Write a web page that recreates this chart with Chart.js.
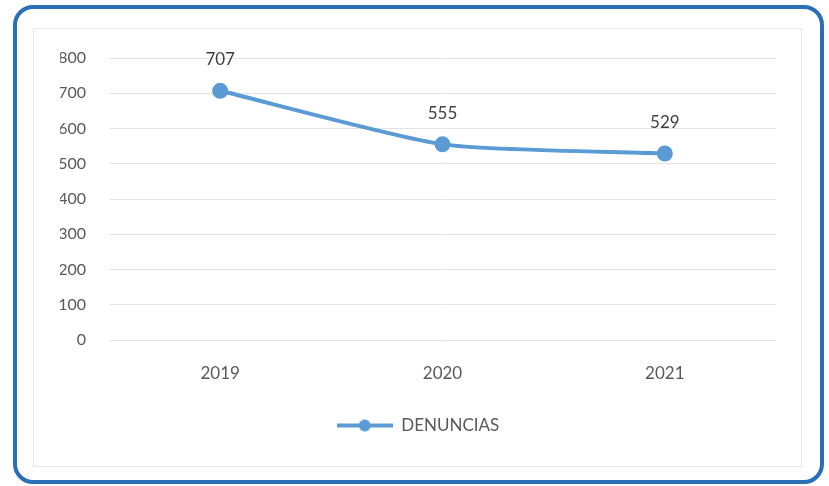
<!DOCTYPE html>
<html>
<head>
<meta charset="utf-8">
<script src="https://cdn.jsdelivr.net/npm/chart.js@4"></script>
<style>
  html,body{margin:0;padding:0;background:#fff;}
  #wrap{position:relative;width:829px;height:486px;overflow:hidden;}
  #outer{position:absolute;left:13px;top:5px;width:803px;height:471px;border:4px solid #2a70b8;border-radius:20px;box-sizing:content-box;}
  #inner{position:absolute;left:33px;top:28px;width:767px;height:437px;border:1px solid #e6e6e6;}
  canvas{position:absolute;left:0;top:0;}
</style>
</head>
<body>
<div id="wrap">
  <div id="outer"></div>
  <div id="inner"></div>
  <canvas id="c" width="829" height="486"></canvas>
</div>
<script>
const categories = ["2019", "2020", "2021"];
const denuncias = [707, 555, 529];
const seriesName = "DENUNCIAS";
const yTicks = [0, 100, 200, 300, 400, 500, 600, 700, 800];

const lineColor = "#5b9bd5";
const textColor = "#595959";
const fontFamily = "Lato, 'Noto Sans', sans-serif";

// legend symbol: line with marker
const sym = document.createElement('canvas');
sym.width = 56; sym.height = 14;
(function(){
  const g = sym.getContext('2d');
  g.strokeStyle = lineColor; g.lineWidth = 4; g.lineCap = 'butt';
  g.beginPath(); g.moveTo(0,7); g.lineTo(56,7); g.stroke();
  g.fillStyle = lineColor;
  g.beginPath(); g.arc(28,7,6,0,Math.PI*2); g.fill();
})();

const dataLabels = {
  id: 'dataLabels',
  afterDatasetsDraw(chart) {
    const ctx = chart.ctx;
    const meta = chart.getDatasetMeta(0);
    ctx.save();
    ctx.font = "17px " + fontFamily;
    ctx.fillStyle = "#404040";
    ctx.textAlign = "center";
    ctx.textBaseline = "middle";
    meta.data.forEach((pt, i) => {
      ctx.fillText(String(chart.data.datasets[0].data[i]), pt.x, pt.y - 31);
    });
    ctx.restore();
  }
};

new Chart(document.getElementById('c'), {
  type: 'line',
  data: {
    labels: categories,
    datasets: [{
      label: seriesName,
      data: denuncias,
      borderColor: lineColor,
      backgroundColor: lineColor,
      borderWidth: 4,
      pointRadius: 6,
      pointHoverRadius: 6,
      pointBackgroundColor: lineColor,
      pointBorderColor: lineColor,
      tension: 0.2,
      fill: false
    }]
  },
  options: {
    responsive: false,
    animation: false,
    events: [],
    layout: { padding: { left: 60, right: 53, top: 58, bottom: 42 } },
    scales: {
      x: {
        offset: true,
        grid: { display: false, drawTicks: false, offset: true },
        border: { display: false },
        ticks: { color: textColor, font: { size: 17, family: fontFamily }, padding: 23 },
        afterFit(s) { s.height = 68; }
      },
      y: {
        min: 0, max: 800,
        afterBuildTicks(s) { s.ticks = yTicks.map(v => ({ value: v })); },
        grid: { color: "#e3e3e3", lineWidth: 1, drawTicks: false },
        border: { display: false },
        ticks: { color: textColor, font: { size: 16, family: fontFamily }, padding: 23 },
        afterFit(s) { s.width = 49; }
      }
    },
    plugins: {
      legend: {
        position: 'bottom',
        labels: {
          usePointStyle: true,
          pointStyleWidth: 56,
          color: textColor,
          font: { size: 17, family: fontFamily },
          padding: 9,
          generateLabels(chart) {
            return [{
              text: seriesName,
              pointStyle: sym,
              fillStyle: lineColor,
              strokeStyle: lineColor,
              lineWidth: 0,
              hidden: false,
              datasetIndex: 0,
              fontColor: textColor
            }];
          }
        }
      },
      tooltip: { enabled: false }
    }
  },
  plugins: [dataLabels]
});
</script>
</body>
</html>
